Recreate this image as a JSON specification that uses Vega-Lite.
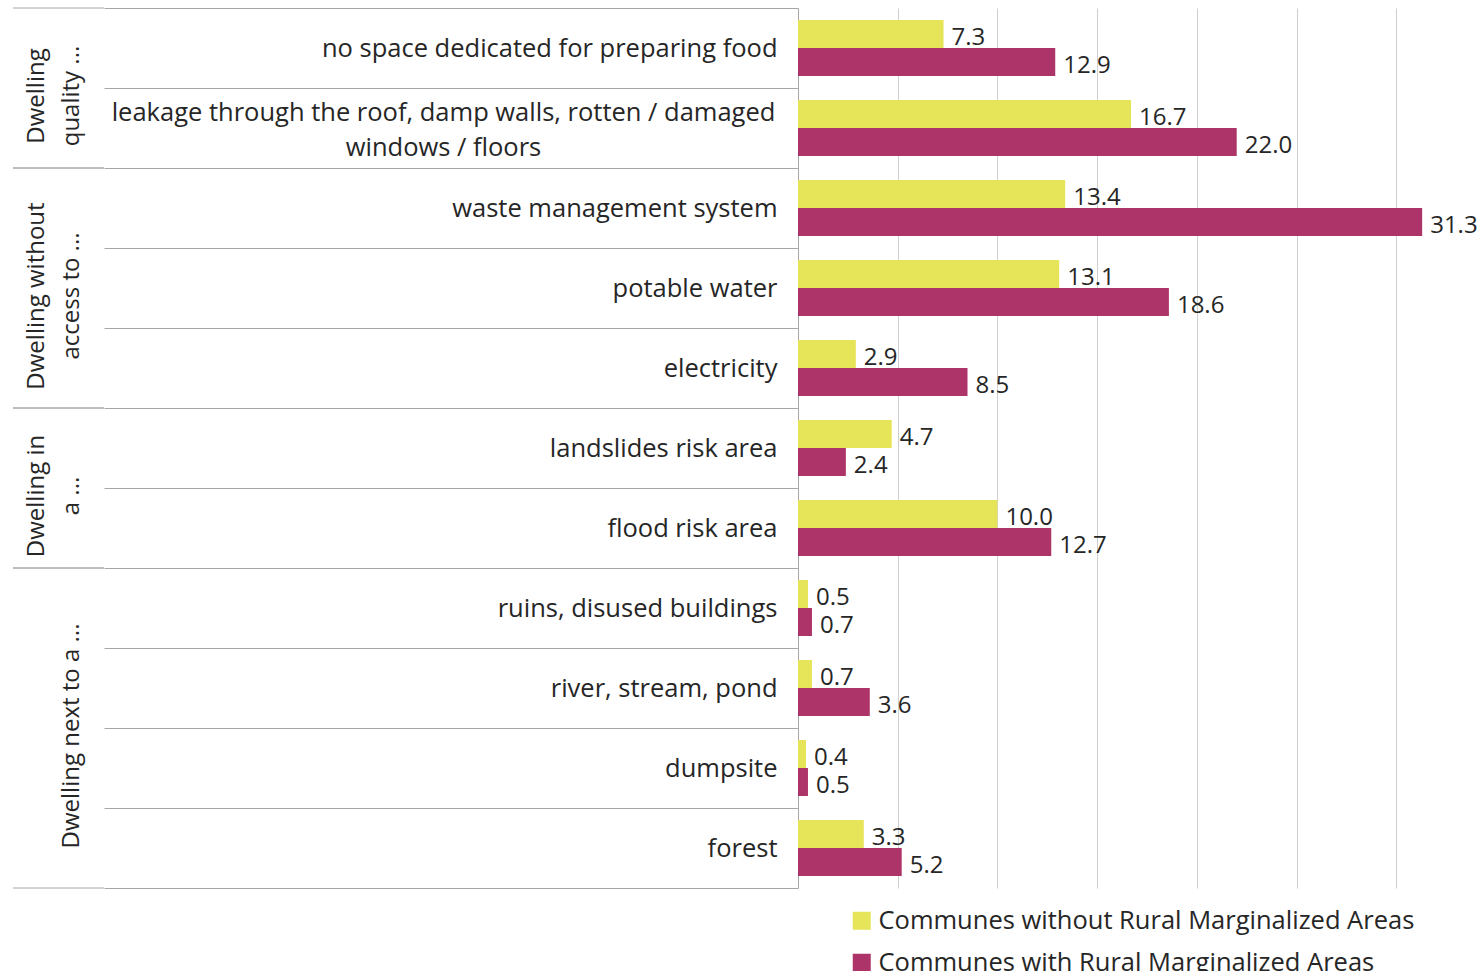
{
  "$schema": "https://vega.github.io/schema/vega-lite/v6.json",
  "padding": {"left": 12, "top": 7, "right": 0, "bottom": 0},
  "background": "white",
  "config": {"view": {"stroke": null}, "font": "Open Sans"},
  "spacing": 694,
  "bounds": "flush",
  "datasets": {
    "groups": [
      {"group": "Dwelling\nquality ...", "start": 0, "end": 2, "mid": 1, "lines": 2},
      {"group": "Dwelling without\naccess to ...", "start": 2, "end": 5, "mid": 3.5, "lines": 2},
      {"group": "Dwelling in\na ...", "start": 5, "end": 7, "mid": 6, "lines": 2},
      {"group": "Dwelling next to a ...", "start": 7, "end": 11, "mid": 9, "lines": 1}
    ],
    "bars": [
      {"category": "no space dedicated for preparing food", "series": "Communes without Rural Marginalized Areas", "value": 7.3},
      {"category": "no space dedicated for preparing food", "series": "Communes with Rural Marginalized Areas", "value": 12.9},
      {"category": "leakage through the roof, damp walls, rotten / damaged\nwindows / floors", "series": "Communes without Rural Marginalized Areas", "value": 16.7},
      {"category": "leakage through the roof, damp walls, rotten / damaged\nwindows / floors", "series": "Communes with Rural Marginalized Areas", "value": 22.0},
      {"category": "waste management system", "series": "Communes without Rural Marginalized Areas", "value": 13.4},
      {"category": "waste management system", "series": "Communes with Rural Marginalized Areas", "value": 31.3},
      {"category": "potable water", "series": "Communes without Rural Marginalized Areas", "value": 13.1},
      {"category": "potable water", "series": "Communes with Rural Marginalized Areas", "value": 18.6},
      {"category": "electricity", "series": "Communes without Rural Marginalized Areas", "value": 2.9},
      {"category": "electricity", "series": "Communes with Rural Marginalized Areas", "value": 8.5},
      {"category": "landslides risk area", "series": "Communes without Rural Marginalized Areas", "value": 4.7},
      {"category": "landslides risk area", "series": "Communes with Rural Marginalized Areas", "value": 2.4},
      {"category": "flood risk area", "series": "Communes without Rural Marginalized Areas", "value": 10.0},
      {"category": "flood risk area", "series": "Communes with Rural Marginalized Areas", "value": 12.7},
      {"category": "ruins, disused buildings", "series": "Communes without Rural Marginalized Areas", "value": 0.5},
      {"category": "ruins, disused buildings", "series": "Communes with Rural Marginalized Areas", "value": 0.7},
      {"category": "river, stream, pond", "series": "Communes without Rural Marginalized Areas", "value": 0.7},
      {"category": "river, stream, pond", "series": "Communes with Rural Marginalized Areas", "value": 3.6},
      {"category": "dumpsite", "series": "Communes without Rural Marginalized Areas", "value": 0.4},
      {"category": "dumpsite", "series": "Communes with Rural Marginalized Areas", "value": 0.5},
      {"category": "forest", "series": "Communes without Rural Marginalized Areas", "value": 3.3},
      {"category": "forest", "series": "Communes with Rural Marginalized Areas", "value": 5.2}
    ]
  },
  "hconcat": [
    {
      "width": 91,
      "height": 880,
      "data": {"name": "groups"},
      "layer": [
        {
          "mark": {"type": "rule", "color": "#a6a6a6", "strokeWidth": 1},
          "encoding": {"y": {"field": "start", "type": "quantitative", "scale": {"domain": [0, 11], "reverse": true, "nice": false, "zero": false}, "axis": null}}
        },
        {
          "mark": {"type": "rule", "color": "#a6a6a6", "strokeWidth": 1},
          "encoding": {"y": {"field": "end", "type": "quantitative", "axis": null}}
        },
        {
          "transform": [{"filter": "datum.lines == 2"}],
          "mark": {"type": "text", "angle": 270, "lineBreak": "\n", "baseline": "bottom", "align": "center", "fontSize": 24, "lineHeight": 35, "dy": -10, "dx": -8, "color": "#262626"},
          "encoding": {"y": {"field": "mid", "type": "quantitative", "axis": null}, "text": {"field": "group", "type": "nominal"}}
        },
        {
          "transform": [{"filter": "datum.lines == 1"}],
          "mark": {"type": "text", "angle": 270, "baseline": "bottom", "align": "center", "fontSize": 24, "dy": 25, "dx": -8, "color": "#262626"},
          "encoding": {"y": {"field": "mid", "type": "quantitative", "axis": null}, "text": {"field": "group", "type": "nominal"}}
        }
      ]
    },
    {
      "width": 678,
      "height": 880,
      "data": {"name": "bars"},
      "encoding": {
        "y": {
          "field": "category", "type": "nominal", "sort": null,
          "scale": {"paddingInner": 0, "paddingOuter": 0},
          "axis": {
            "title": null, "tickBand": "extent", "tickExtra": true, "tickSize": 694, "tickColor": "#a6a6a6", "tickWidth": 1,
            "domainColor": "#a6a6a6", "domainWidth": 1,
            "labelPadding": {"condition": {"test": "indexof(datum.label, 'leakage') >= 0", "value": -339}, "value": -673},
            "labelAlign": {"condition": {"test": "indexof(datum.label, 'leakage') >= 0", "value": "center"}, "value": "right"},
            "labelOffset": {"condition": {"test": "indexof(datum.label, 'leakage') >= 0", "value": -16}, "value": 0},
            "labelFontSize": {"condition": {"test": "datum.label == ''", "value": 0}, "value": 25.5},
            "labelColor": "#262626",
            "labelLimit": 700, "labelLineHeight": 35, "labelOverlap": false, "labelExpr": "split(datum.label, '\\n')",
            "minExtent": 694, "maxExtent": 694
          }
        },
        "yOffset": {
          "field": "series", "type": "nominal",
          "sort": ["Communes without Rural Marginalized Areas", "Communes with Rural Marginalized Areas"],
          "scale": {"paddingInner": 0, "paddingOuter": 0.4286}
        },
        "x": {
          "field": "value", "type": "quantitative",
          "scale": {"domain": [0, 34], "nice": false},
          "axis": {"title": null, "labels": false, "ticks": false, "domain": false, "grid": true, "gridColor": "#cfcfcf", "gridWidth": 1, "values": [5, 10, 15, 20, 25, 30], "minExtent": 0, "maxExtent": 0}
        }
      },
      "layer": [
        {
          "mark": {"type": "bar"},
          "encoding": {
            "color": {
              "field": "series", "type": "nominal",
              "scale": {"domain": ["Communes without Rural Marginalized Areas", "Communes with Rural Marginalized Areas"], "range": ["#E6E55A", "#AD3469"]},
              "legend": {
                "title": null, "orient": "none", "legendX": 836, "legendY": 900, "direction": "vertical",
                "symbolType": "square", "symbolSize": 324, "symbolStrokeWidth": 0, "labelFontSize": 25.5, "labelColor": "#262626",
                "labelLimit": 0, "rowPadding": 15, "labelOffset": 4, "padding": 0
              }
            }
          }
        },
        {
          "mark": {"type": "text", "align": "left", "baseline": "middle", "dx": 8, "dy": 4, "fontSize": 24, "color": "#262626"},
          "encoding": {"text": {"field": "value", "type": "quantitative", "format": ".1f"}}
        }
      ]
    }
  ]
}
